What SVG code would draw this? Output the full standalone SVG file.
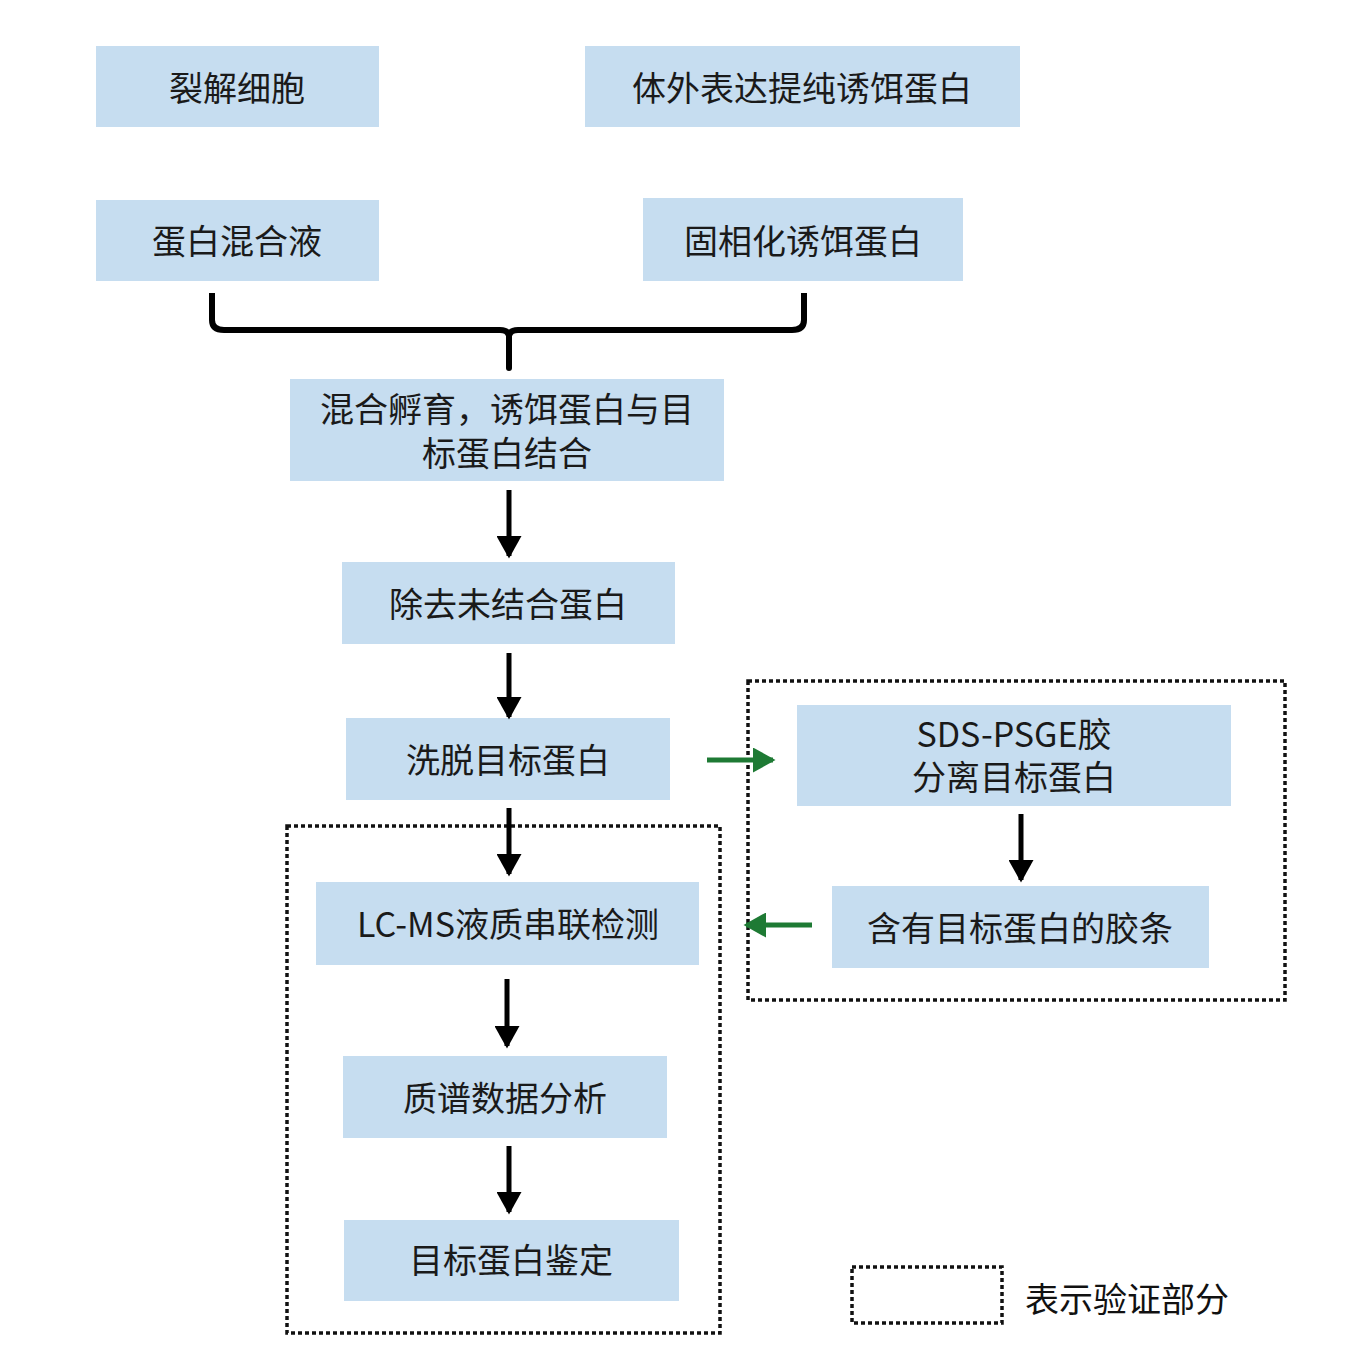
<svg xmlns="http://www.w3.org/2000/svg" width="1360" height="1358" viewBox="0 0 1360 1358">
<defs>
<marker id="ab" markerWidth="5" markerHeight="5" refX="4" refY="2.5" orient="auto" markerUnits="strokeWidth"><path d="M0,0 L4.5,2.5 L0,5 Z" fill="#000"/></marker>
<marker id="ag" markerWidth="5" markerHeight="5" refX="4" refY="2.5" orient="auto" markerUnits="strokeWidth"><path d="M0,0 L4.5,2.5 L0,5 Z" fill="#1e7a34"/></marker>
</defs>
<style>
.n rect{fill:#c6ddf0;}
.n text{font-family:"Noto Sans CJK SC","Noto Sans",sans-serif;font-size:34px;fill:#1a1a1a;text-anchor:middle;dominant-baseline:central;}
.dash{fill:none;stroke:#111;stroke-width:3.5;stroke-dasharray:4 3;}
.bk{stroke:#000;stroke-width:5;fill:none;marker-end:url(#ab);}
.gr{stroke:#1e7a34;stroke-width:5;fill:none;marker-end:url(#ag);}
</style>
<rect width="1360" height="1358" fill="#fff"/>
<g id="dashed">
<rect class="dash" x="748" y="681" width="537" height="319"/>
<rect class="dash" x="287" y="826" width="433" height="507"/>
</g>
<g id="n1" class="n"><rect x="96" y="46" width="283" height="81"/><text x="237" y="86">裂解细胞</text></g>
<g id="n2" class="n"><rect x="585" y="46" width="435" height="81"/><text x="802" y="86">体外表达提纯诱饵蛋白</text></g>
<g id="n3" class="n"><rect x="96" y="200" width="283" height="81"/><text x="237" y="239">蛋白混合液</text></g>
<g id="n4" class="n"><rect x="643" y="198" width="320" height="83"/><text x="803" y="239">固相化诱饵蛋白</text></g>
<g id="n5" class="n"><rect x="290" y="379" width="434" height="102"/><text x="507" y="407">混合孵育，诱饵蛋白与目</text><text x="507" y="451">标蛋白结合</text></g>
<g id="n6" class="n"><rect x="342" y="562" width="333" height="82"/><text x="508" y="602">除去未结合蛋白</text></g>
<g id="n7" class="n"><rect x="346" y="718" width="324" height="82"/><text x="508" y="758">洗脱目标蛋白</text></g>
<g id="n8" class="n"><rect x="797" y="705" width="434" height="101"/><text x="1014" y="732">SDS-PSGE胶</text><text x="1014" y="775">分离目标蛋白</text></g>
<g id="n9" class="n"><rect x="832" y="886" width="377" height="82"/><text x="1020" y="926">含有目标蛋白的胶条</text></g>
<g id="n10" class="n"><rect x="316" y="882" width="383" height="83"/><text x="508" y="922">LC-MS液质串联检测</text></g>
<g id="n11" class="n"><rect x="343" y="1056" width="324" height="82"/><text x="505" y="1096">质谱数据分析</text></g>
<g id="n12" class="n"><rect x="344" y="1220" width="335" height="81"/><text x="511" y="1258">目标蛋白鉴定</text></g>
<g id="legend">
<rect class="dash" x="852" y="1267" width="150" height="56"/>
<text x="1025" y="1297" style="font-family:'Noto Sans CJK SC','Noto Sans',sans-serif;font-size:34px;fill:#111;dominant-baseline:central;">表示验证部分</text>
</g>
<g id="connectors">
<path d="M212,293 V320 Q212,330 224,330 H500 Q508,330 509,336 Q510,330 518,330 H792 Q804,330 804,320 V293" fill="none" stroke="#000" stroke-width="6"/>
<path d="M509,334 V368" stroke="#000" stroke-width="6" stroke-linecap="round"/>
<line class="bk" x1="509" y1="490" x2="509" y2="556"/>
<line class="bk" x1="509" y1="653" x2="509" y2="717"/>
<line class="bk" x1="509" y1="808" x2="509" y2="874"/>
<line class="bk" x1="507" y1="979" x2="507" y2="1046"/>
<line class="bk" x1="509" y1="1146" x2="509" y2="1212"/>
<line class="bk" x1="1021" y1="814" x2="1021" y2="880"/>
<line class="gr" x1="707" y1="760" x2="773" y2="760"/>
<line class="gr" x1="812" y1="925" x2="746" y2="925"/>
</g>
</svg>
